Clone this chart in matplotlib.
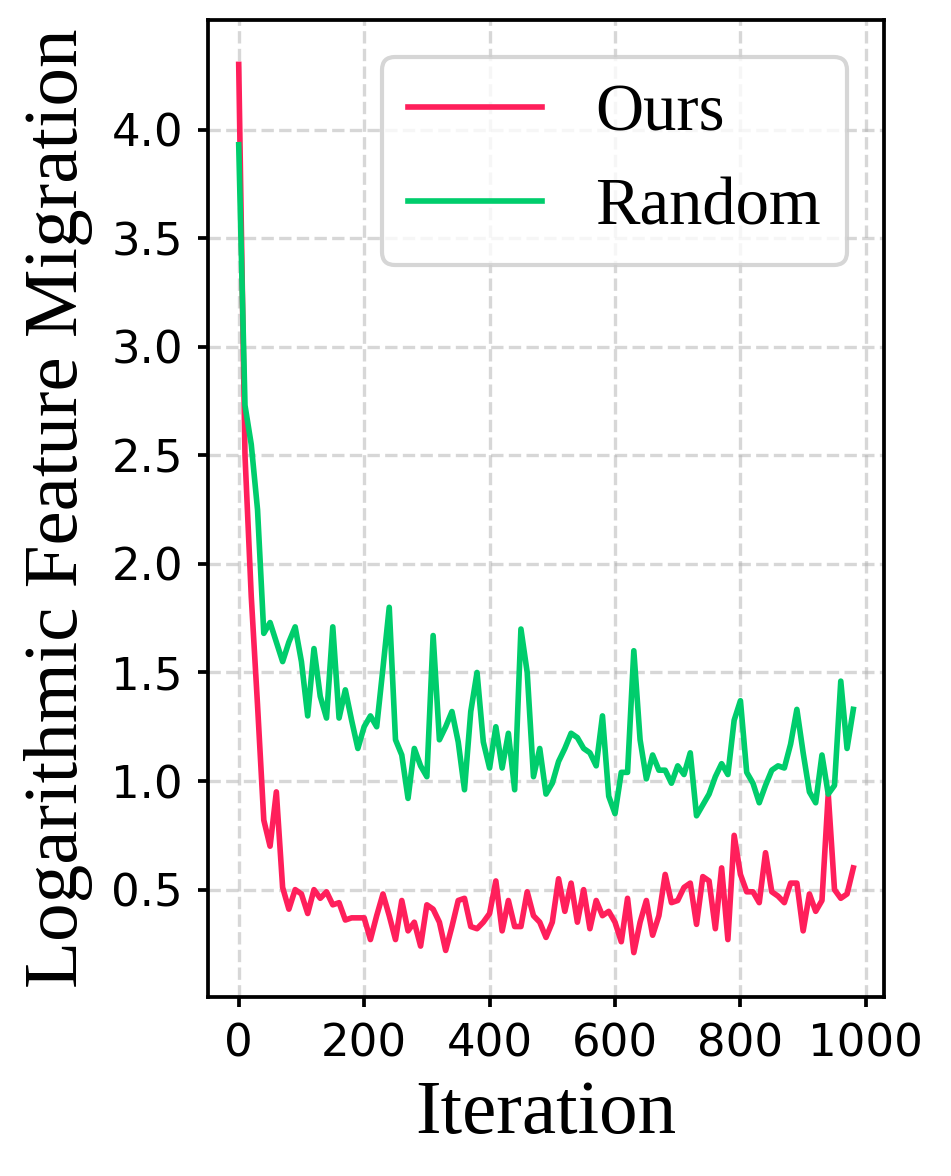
import numpy as np
import matplotlib
matplotlib.use("Agg")
import matplotlib.pyplot as plt

# iterations (every 10 steps)
iterations = np.arange(0, 990, 10)

# Ours
ours = [4.30, 2.50, 1.85, 1.35, 0.82, 0.70, 0.95, 0.51, 0.41, 0.50,
        0.48, 0.39, 0.50, 0.46, 0.49, 0.43, 0.44, 0.36, 0.37, 0.37,
        0.37, 0.27, 0.38, 0.48, 0.38, 0.27, 0.45, 0.31, 0.35, 0.24,
        0.43, 0.41, 0.35, 0.22, 0.33, 0.45, 0.46, 0.33, 0.32, 0.35,
        0.39, 0.54, 0.31, 0.45, 0.33, 0.33, 0.49, 0.38, 0.35, 0.28,
        0.35, 0.55, 0.40, 0.53, 0.35, 0.50, 0.32, 0.45, 0.38, 0.40,
        0.35, 0.26, 0.46, 0.21, 0.35, 0.45, 0.29, 0.38, 0.57, 0.44,
        0.45, 0.51, 0.53, 0.34, 0.56, 0.54, 0.32, 0.60, 0.27, 0.75,
        0.57, 0.49, 0.49, 0.44, 0.67, 0.49, 0.47, 0.44, 0.53, 0.53,
        0.31, 0.48, 0.40, 0.45, 0.94, 0.50, 0.46, 0.48, 0.60]

# Random
random_sel = [3.93, 2.73, 2.55, 2.25, 1.68, 1.73, 1.64, 1.55, 1.64, 1.71,
              1.55, 1.30, 1.61, 1.39, 1.29, 1.71, 1.29, 1.42, 1.28, 1.15,
              1.25, 1.30, 1.25, 1.52, 1.80, 1.19, 1.12, 0.92, 1.15, 1.07,
              1.02, 1.67, 1.19, 1.25, 1.32, 1.18, 0.96, 1.32, 1.50, 1.18,
              1.06, 1.25, 1.06, 1.22, 0.96, 1.70, 1.50, 1.02, 1.15, 0.94,
              0.99, 1.09, 1.15, 1.22, 1.20, 1.15, 1.13, 1.07, 1.30, 0.93,
              0.85, 1.04, 1.04, 1.60, 1.19, 1.01, 1.12, 1.05, 1.05, 0.99,
              1.07, 1.03, 1.13, 0.84, 0.89, 0.94, 1.02, 1.08, 1.03, 1.28,
              1.37, 1.04, 0.99, 0.90, 0.98, 1.05, 1.07, 1.06, 1.17, 1.33,
              1.13, 0.95, 0.90, 1.12, 0.94, 0.98, 1.46, 1.15, 1.33]

serif = ['Liberation Serif', 'DejaVu Serif']

fig = plt.figure(figsize=(3.17, 3.92), dpi=300)
ax = fig.add_axes([0.2187, 0.1522, 0.7109, 0.8308])

ax.plot(iterations, ours, color='#FF1F5B', linewidth=1.35, label='Ours')
ax.plot(iterations, random_sel, color='#00CD6C', linewidth=1.35, label='Random')

ax.set_xlabel('Iteration', fontsize=18.5, family=serif, labelpad=3.5)
ax.set_ylabel('Logarithmic Feature Migration', fontsize=18.5, family=serif, labelpad=4.5)
ax.tick_params(axis='both', labelsize=10.8, length=2.5, width=0.9)
ax.set_xticks([0, 200, 400, 600, 800, 1000])
ax.set_yticks([0.5, 1.0, 1.5, 2.0, 2.5, 3.0, 3.5, 4.0])
for sp in ax.spines.values():
    sp.set_linewidth(0.9)

ax.grid(True, linestyle='--', alpha=0.5)
ax.legend(loc='upper right', prop={'family': serif, 'size': 16},
          labelspacing=0.5, borderaxespad=0.55)

fig.savefig('out.png', dpi=300)
